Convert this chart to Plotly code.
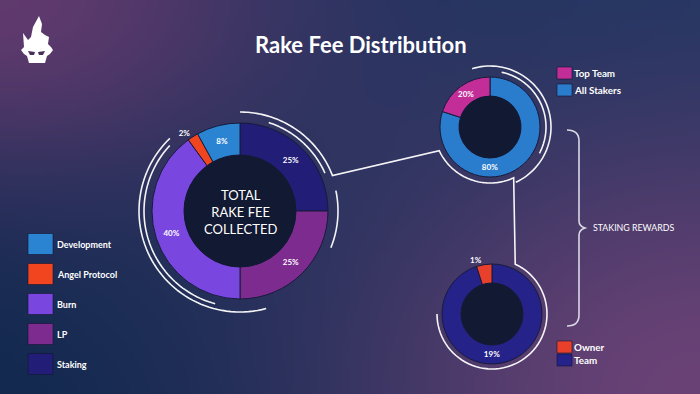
import math, zlib, struct, base64
import plotly.graph_objects as go

# ---------------- data ----------------
main_labels = ["Development", "Angel Protocol", "Burn", "LP", "Staking"]
main_values = [8, 2, 40, 25, 25]
main_colors = ["#2a84d2", "#f0451f", "#7a46e0", "#7d2b8f", "#221d76"]
main_textpos = ["inside", "outside", "inside", "inside", "inside"]

stake_labels = ["Top Team", "All Stakers"]
stake_values = [20, 80]
stake_colors = ["#c22d98", "#2a7ccc"]

team_labels = ["Owner", "Team"]
team_values = [1, 19]
team_colors = ["#e8402a", "#25228a"]
team_textpos = ["outside", "inside"]

title_text = "Rake Fee Distribution"
center_text = "TOTAL<br>RAKE FEE<br>COLLECTED"
bracket_text = "STAKING REWARDS"

W, H = 700, 394
FONT = "Lato, 'Open Sans', sans-serif"

def px(x):
    return x / W

def py(y):
    return 1 - y / H

# ---------------- background gradient PNG ----------------
def bg_color(X, Y):
    t = (X / W + (1 - Y / H)) / 2
    a, b = (15, 40, 78), (28, 53, 96)
    c = [a[i] + (b[i] - a[i]) * t for i in range(3)]
    w1 = math.exp(-((X / 300) ** 2 + (Y / 185) ** 2))
    g1 = (96, 58, 110)
    c = [c[i] + (g1[i] - c[i]) * w1 for i in range(3)]
    w2 = math.exp(-(((W - X) / 380) ** 2 + ((H - Y) / 290) ** 2))
    g2 = (106, 66, 118)
    c = [c[i] + (g2[i] - c[i]) * w2 for i in range(3)]
    return bytes(int(max(0, min(255, v))) for v in c)

def make_png(w, h):
    rows = []
    for j in range(h):
        row = bytearray(b"\x00")
        for i in range(w):
            row += bg_color((i + 0.5) * W / w, (j + 0.5) * H / h)
        rows.append(bytes(row))
    raw = b"".join(rows)
    def chunk(tag, data):
        return struct.pack(">I", len(data)) + tag + data + struct.pack(">I", zlib.crc32(tag + data) & 0xFFFFFFFF)
    png = b"\x89PNG\r\n\x1a\n" + chunk(b"IHDR", struct.pack(">IIBBBBB", w, h, 8, 2, 0, 0, 0)) \
        + chunk(b"IDAT", zlib.compress(raw, 9)) + chunk(b"IEND", b"")
    return "data:image/png;base64," + base64.b64encode(png).decode()

bg_uri = make_png(175, 99)

# ---------------- geometry helpers ----------------
def domain(cx, cy, r):
    return dict(x=[px(cx - r), px(cx + r)], y=[py(cy + r), py(cy - r)])

def arc_pts(cx, cy, r, a0, a1, n=60):
    pts = []
    for k in range(n + 1):
        a = math.radians(a0 + (a1 - a0) * k / n)
        pts.append((cx + r * math.sin(a), cy - r * math.cos(a)))
    return pts

def path_from(pts, close=False):
    s = "M " + " L ".join(f"{px(x):.5f},{py(y):.5f}" for x, y in pts)
    return s + (" Z" if close else "")

LINE = dict(color="rgba(255,255,255,0.95)", width=1.6)

# donut centres / radii (layout)
MC, MR, MH = (240, 211), 88, 56
SC, SR, SH = (490, 127), 50, 31
TC, TR, TH = (492, 314), 50, 31

fig = go.Figure()

def add_pie(labels, values, colors, center, r, hole, textpos):
    # legend order runs counter-clockwise from 12 o'clock -> draw reversed, clockwise
    if isinstance(textpos, list):
        textpos = textpos[::-1]
    fig.add_trace(go.Pie(
        labels=labels[::-1], values=values[::-1], sort=False, direction="clockwise",
        rotation=0, hole=hole / r, domain=domain(center[0], center[1], r),
        marker=dict(colors=colors[::-1], line=dict(color="#161b3a", width=1)),
        texttemplate="<b>%{value}%</b>", textposition=textpos,
        insidetextorientation="horizontal",
        textfont=dict(family=FONT, size=8, color="white"),
        outsidetextfont=dict(family=FONT, size=8, color="white"),
        showlegend=False, hoverinfo="label+value",
    ))

add_pie(main_labels, main_values, main_colors, MC, MR, MH, main_textpos)
add_pie(stake_labels, stake_values, stake_colors, SC, SR, SH, "inside")
add_pie(team_labels, team_values, team_colors, TC, TR, TH, team_textpos)

shapes = []
# dark centres
for (cx, cy), h in [(MC, MH), (SC, SH), (TC, TH)]:
    shapes.append(dict(type="circle", xref="paper", yref="paper",
                       x0=px(cx - h), x1=px(cx + h), y0=py(cy + h), y1=py(cy - h),
                       fillcolor="#121932", line=dict(width=0), layer="above"))

# decorative arcs around main donut
for r, a0, a1 in [(101, 165, 316), (96, 195, 313), (98, 78, 112), (93, 18, 66)]:
    shapes.append(dict(type="path", xref="paper", yref="paper",
                       path=path_from(arc_pts(MC[0], MC[1], r, a0, a1)), line=LINE))

# connector: main arc -> top donut -> bottom donut
conn = arc_pts(MC[0], MC[1], 99, 0, 69)
conn += arc_pts(SC[0], SC[1], 56, 245, 155)
conn += arc_pts(TC[0], TC[1], 55, 25, 270)
shapes.append(dict(type="path", xref="paper", yref="paper", path=path_from(conn), line=LINE))

# arcs round top donut
for r, a0, a1 in [(61, -17, 155), (56, 12, 118)]:
    shapes.append(dict(type="path", xref="paper", yref="paper",
                       path=path_from(arc_pts(SC[0], SC[1], r, a0, a1)), line=LINE))

# curly bracket
bx = 579
brace = (f"M {px(567)},{py(130)} Q {px(bx)},{py(130)} {px(bx)},{py(141)} "
         f"L {px(bx)},{py(221)} Q {px(bx)},{py(226)} {px(585)},{py(228)} "
         f"Q {px(bx)},{py(230)} {px(bx)},{py(235)} L {px(bx)},{py(315)} "
         f"Q {px(bx)},{py(326)} {px(567)},{py(326)}")
shapes.append(dict(type="path", xref="paper", yref="paper", path=brace,
                   line=dict(color="#d9d9e6", width=1.6)))

# logo (flaming skull)
logo = [(21, 50), (24, 47), (23, 33), (28, 40), (31, 37), (33, 27), (39, 16), (42, 24),
        (41, 32), (45, 35), (49, 37), (48, 44), (51, 47), (53, 50), (50, 54), (47, 56),
        (45, 63), (29, 63), (27, 56), (24, 54)]
shapes.append(dict(type="path", xref="paper", yref="paper", path=path_from(logo, True),
                   fillcolor="white", line=dict(width=0)))
for eye in [[(28, 51), (35, 52), (34, 55), (30, 55)], [(38, 52), (45, 51), (43, 55), (39, 55)]]:
    shapes.append(dict(type="path", xref="paper", yref="paper", path=path_from(eye, True),
                       fillcolor="#4a2f5c", line=dict(width=0)))

annotations = []

def legend_block(labels, colors, x0, y0, sw, sh, step, tx, size):
    for i, (lab, col) in enumerate(zip(labels, colors)):
        yc = y0 + i * step
        shapes.append(dict(type="rect", xref="paper", yref="paper",
                           x0=px(x0), x1=px(x0 + sw), y0=py(yc + sh / 2), y1=py(yc - sh / 2),
                           fillcolor=col, line=dict(color="rgba(20,20,50,0.6)", width=1)))
        annotations.append(dict(x=px(tx), y=py(yc), xref="paper", yref="paper",
                                text=f"<b>{lab}</b>", showarrow=False, xanchor="left",
                                yanchor="middle", font=dict(family=FONT, size=size, color="white")))

legend_block(main_labels, main_colors, 28, 244, 25, 21, 30, 55, 9)
legend_block(stake_labels, stake_colors, 557, 73, 15, 12, 17, 572, 9.8)
legend_block(team_labels, team_colors, 557, 347, 15, 12, 13, 572, 9.8)

annotations.append(dict(x=px(361), y=py(45), xref="paper", yref="paper", text=f"<b>{title_text}</b>",
                        showarrow=False, xanchor="center", yanchor="middle",
                        font=dict(family=FONT, size=22, color="white")))
annotations.append(dict(x=px(MC[0]), y=py(MC[1] + 1), xref="paper", yref="paper", text=center_text,
                        showarrow=False, xanchor="center", yanchor="middle",
                        font=dict(family=FONT, size=13, color="white")))
annotations.append(dict(x=px(591), y=py(228), xref="paper", yref="paper", text=bracket_text,
                        showarrow=False, xanchor="left", yanchor="middle",
                        font=dict(family=FONT, size=8.8, color="white")))

fig.update_layout(
    width=W, height=H, margin=dict(l=0, r=0, t=0, b=0),
    paper_bgcolor="#1d2c55", plot_bgcolor="rgba(0,0,0,0)",
    shapes=shapes, annotations=annotations,
    images=[dict(source=bg_uri, xref="paper", yref="paper", x=0, y=1, sizex=1, sizey=1,
                 xanchor="left", yanchor="top", sizing="stretch", layer="below")],
    showlegend=False,
)

fig.write_html("out.html", config={"displayModeBar": False},
               post_script="document.body.style.margin='0';document.body.style.padding='0';")
